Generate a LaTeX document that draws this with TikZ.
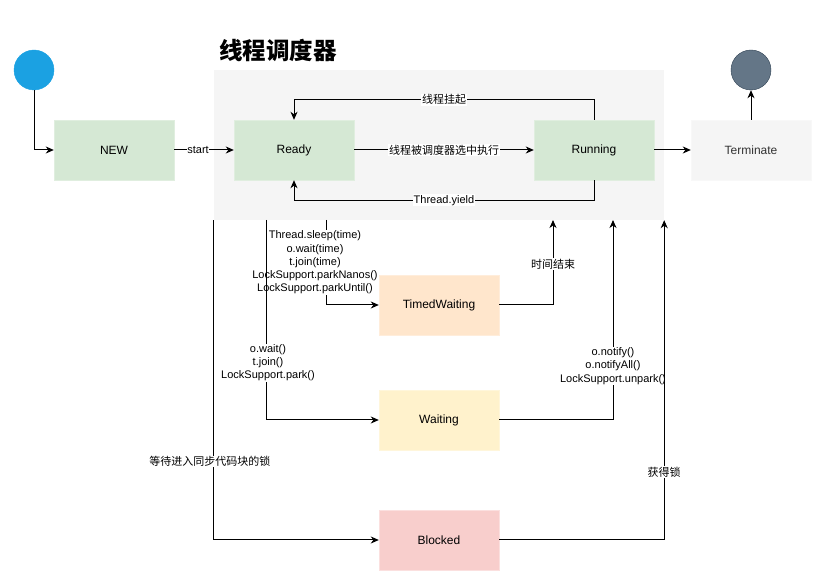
\documentclass[tikz,border=0pt]{standalone}
\usepackage{fontspec}
\setmainfont{Liberation Sans}
\newfontfamily\cjk{Noto Sans CJK SC}
\usetikzlibrary{arrows.meta}

\definecolor{startblue}{HTML}{1BA1E2}
\definecolor{endslate}{HTML}{647687}
\definecolor{endedge}{HTML}{314354}
\definecolor{stategreen}{HTML}{D5E8D4}
\definecolor{greenedge}{HTML}{E0EEDF}
\definecolor{schedgray}{HTML}{F5F5F5}
\definecolor{timedorange}{HTML}{FFE6CC}
\definecolor{waityellow}{HTML}{FFF2CC}
\definecolor{blockedred}{HTML}{F8CECC}
\definecolor{blockededge}{HTML}{FBE0DF}

\tikzset{
  state/.style={rectangle, minimum width=120pt, minimum height=60pt, inner sep=0pt,
    font=\fontsize{12}{14}\selectfont},
  arr/.style={-{Stealth[length=8pt,width=7pt,inset=2.5pt]}, line width=1pt},
  lbl/.style={fill=white, inner sep=0.6pt, align=center, font=\fontsize{11}{13.2}\selectfont},
}

\begin{document}
\begin{tikzpicture}[x=1pt,y=1pt,yscale=-1,xscale=1]
	\useasboundingbox (0,0) rectangle (831,585);

	%Shape: scheduler area
	\node [rectangle, fill=schedgray, minimum width=450pt, minimum height=150pt, inner sep=0pt] (sched) at (439,145) {};
	% Text Node
	\node [anchor=west, inner sep=0pt, font=\cjk\bfseries\fontsize{23.5}{26}\selectfont] (title) at (219,50) {线程调度器};

	%Shape: Circle start / end
	\node [circle, fill=startblue, draw=startblue, minimum size=40pt, inner sep=0pt] (init) at (34,70) {};
	\node [circle, fill=endslate, draw=endedge, minimum size=40pt, inner sep=0pt] (final) at (751,70) {};

	%Shape: states
	\node [state, fill=stategreen, draw=greenedge] (new) at (114,150) {NEW};
	\node [state, fill=stategreen, draw=greenedge] (ready) at (294,150) {Ready};
	\node [state, fill=stategreen, draw=greenedge] (running) at (594,150) {Running};
	\node [state, fill=schedgray, draw=schedgray!90!black!20!white, text=black!80] (term) at (751,150) {Terminate};
	\node [state, fill=timedorange, draw=timedorange!70!white] (timed) at (439,305) {TimedWaiting};
	\node [state, fill=waityellow, draw=waityellow!70!white] (waiting) at (439,420) {Waiting};
	\node [state, fill=blockedred, draw=blockededge] (blocked) at (439,540) {Blocked};

	% exits and entries on the scheduler border
	\coordinate (timedout) at (326,220);
	\coordinate (waitout) at (266,220);
	\coordinate (timedin) at (553,220);
	\coordinate (waitin) at (613,220);

	%Straight Lines
	\draw [arr] (init) |- (new);
	\draw [arr] (new) -- node [lbl, pos=0.4] {start} (ready);
	\draw [arr] (ready) -- node [lbl] {\cjk 线程被调度器选中执行} (running);
	\draw [arr] (running.north) -- ++(0,-20) -| node [lbl, pos=0.25] {\cjk 线程挂起} (ready.north);
	\draw [arr] (running.south) -- ++(0,20) -| node [lbl, pos=0.25] {Thread.yield} (ready.south);
	\draw [arr] (running) -- (term);
	\draw [arr] (term) -- (final);

	\draw [arr] (timedout) |- node [lbl, pos=0.25, xshift=-11pt] {Thread.sleep(time)\\o.wait(time)\\t.join(time)\\LockSupport.parkNanos()\\LockSupport.parkUntil()} (timed);
	\draw [arr] (timed) -| node [lbl, pos=0.741] {\cjk 时间结束} (timedin);
	\draw [arr] (waitout) |- node [lbl, pos=0.357, xshift=2pt] {o.wait()\\t.join()\\LockSupport.park()} (waiting);
	\draw [arr] (waiting) -| node [lbl, pos=0.635] {o.notify()\\o.notifyAll()\\LockSupport.unpark()} (waitin);
	\draw [arr] (sched.south west) |- node [lbl, pos=0.377, xshift=-4pt] {\cjk 等待进入同步代码块的锁} (blocked);
	\draw [arr] (blocked) -| node [lbl, pos=0.606] {\cjk 获得锁} (sched.south east);

\end{tikzpicture}
\end{document}
